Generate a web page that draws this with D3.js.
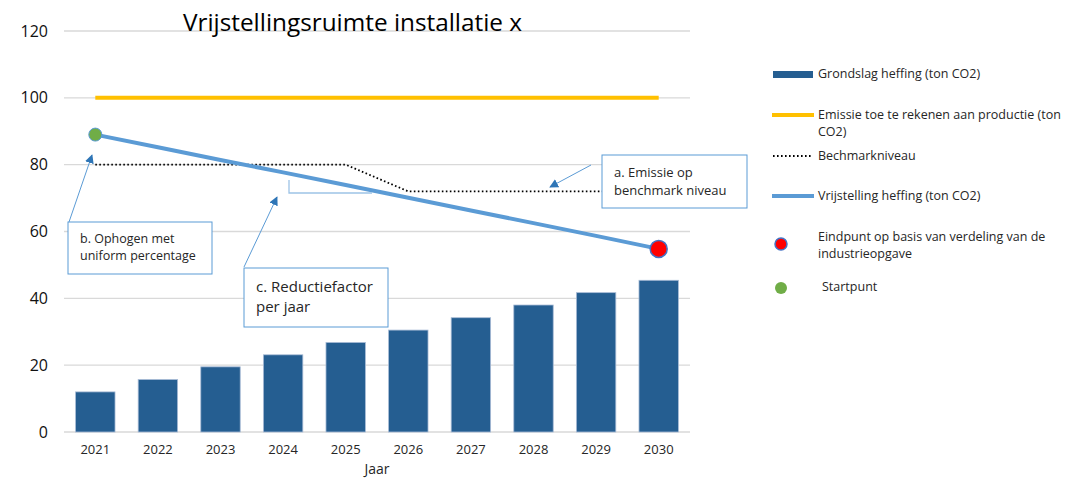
<!DOCTYPE html>
<html>
<head>
<meta charset="utf-8">
<script src="https://cdn.jsdelivr.net/npm/d3@7"></script>
<style>
  body { margin: 0; background: #fff; }
  svg { font-family: "Open Sans", "Noto Sans", sans-serif; }
</style>
</head>
<body>
<svg id="chart" width="1072" height="479"></svg>
<script>
// chart data
const years = ["2021", "2022", "2023", "2024", "2025", "2026", "2027", "2028", "2029", "2030"];
const grondslag = [12.0, 15.7, 19.5, 23.1, 26.8, 30.5, 34.2, 38.0, 41.7, 45.4];
const emissie = [100, 100, 100, 100, 100, 100, 100, 100, 100, 100];
const benchmark = [80, 80, 80, 80, 80, 72, 72, 72, 72, 72];
const vrijstelling = [89, 85.2, 81.4, 77.7, 73.9, 70.1, 66.3, 62.5, 58.7, 54.8];
const yTicks = [0, 20, 40, 60, 80, 100, 120];

const svg = d3.select("#chart");

// scales
const x = d3.scaleBand()
    .domain(years)
    .range([64, 690])
    .paddingInner(0.37)
    .paddingOuter(0.185);
const y = d3.scaleLinear()
    .domain([0, 120])
    .range([432, 31]);
const cx = d => x(d) + x.bandwidth() / 2;

// gridlines
svg.append("g")
    .selectAll("line")
    .data(yTicks)
    .enter()
    .append("line")
    .attr("x1", 64)
    .attr("x2", 690)
    .attr("y1", d => y(d))
    .attr("y2", d => y(d))
    .attr("stroke", "#d9d9d9")
    .attr("stroke-width", 1.3);

// y axis labels
const yAxis = svg.append("g")
    .attr("transform", "translate(64,0)")
    .call(d3.axisLeft(y).tickValues(yTicks).tickSize(0).tickPadding(16));
yAxis.select(".domain").remove();
yAxis.selectAll("text")
    .style("font-size", "16px")
    .style("fill", "#111")
    .style("font-family", "\"Open Sans\", sans-serif");

// x axis labels
const xAxis = svg.append("g")
    .attr("transform", "translate(0,432)")
    .call(d3.axisBottom(x).tickSize(0).tickPadding(13));
xAxis.select(".domain").remove();
xAxis.selectAll("text")
    .style("font-size", "13px")
    .style("fill", "#262626")
    .style("font-family", "\"Open Sans\", sans-serif");

// bars
svg.append("g")
    .selectAll("rect")
    .data(grondslag)
    .enter()
    .append("rect")
    .attr("x", (d, i) => x(years[i]))
    .attr("y", d => y(d))
    .attr("width", x.bandwidth())
    .attr("height", d => y(0) - y(d))
    .attr("fill", "#255e91")
    .attr("stroke", "#a9bcd6")
    .attr("stroke-width", 0.8);

// lines
const line = d3.line()
    .x((d, i) => cx(years[i]))
    .y(d => y(d));

svg.append("path")
    .datum(emissie)
    .attr("d", line)
    .attr("fill", "none")
    .attr("stroke", "#ffc000")
    .attr("stroke-width", 4);

svg.append("path")
    .datum(benchmark)
    .attr("d", line)
    .attr("fill", "none")
    .attr("stroke", "#000")
    .attr("stroke-width", 1.8)
    .attr("stroke-dasharray", "1.6,2.4");

svg.append("path")
    .datum(vrijstelling)
    .attr("d", line)
    .attr("fill", "none")
    .attr("stroke", "#5b9bd5")
    .attr("stroke-width", 4);

// start and end points
svg.append("circle")
    .attr("cx", cx(years[0]))
    .attr("cy", y(vrijstelling[0]))
    .attr("r", 6.5)
    .attr("fill", "#70ad47")
    .attr("stroke", "#5b9bd5")
    .attr("stroke-width", 1);

svg.append("circle")
    .attr("cx", cx(years[years.length - 1]))
    .attr("cy", y(vrijstelling[vrijstelling.length - 1]))
    .attr("r", 8.5)
    .attr("fill", "#ff0000")
    .attr("stroke", "#4472c4")
    .attr("stroke-width", 1.5);

// title
svg.append("text")
    .attr("x", 183)
    .attr("y", 31)
    .style("font-size", "23px")
    .style("fill", "#000")
    .attr("textLength", 339)
    .attr("lengthAdjust", "spacingAndGlyphs")
    .text("Vrijstellingsruimte installatie x");

// x axis title
svg.append("text")
    .attr("x", 377)
    .attr("y", 474)
    .attr("text-anchor", "middle")
    .style("font-size", "14px")
    .style("fill", "#262626")
    .text("Jaar");

// reduction bracket
svg.append("path")
    .attr("d", "M289,180 V193 H372")
    .attr("fill", "none")
    .attr("stroke", "#9dc3e6")
    .attr("stroke-width", 1.3);

// arrow marker
svg.append("defs")
    .append("marker")
    .attr("id", "arrow")
    .attr("viewBox", "0 0 10 10")
    .attr("refX", 9)
    .attr("refY", 5)
    .attr("markerWidth", 9)
    .attr("markerHeight", 9)
    .attr("markerUnits", "userSpaceOnUse")
    .attr("orient", "auto")
    .append("path")
    .attr("d", "M0,0 L10,5 L0,10 Z")
    .attr("fill", "#2e75b6");

// callouts
const callouts = [
    { box: [602, 155, 145, 53], lines: ["a. Emissie op", "benchmark niveau"], size: 13, dy: 18, from: [591, 165], to: [550, 187] },
    { box: [68, 222, 144, 52], lines: ["b. Ophogen met", "uniform percentage"], size: 12.5, dy: 17, from: [69, 222], to: [92, 155] },
    { box: [244, 268, 144, 59], lines: ["c. Reductiefactor", "per jaar"], size: 15, dy: 20, from: [244, 267], to: [277, 197] }
];

callouts.forEach(c => {
    svg.append("line")
        .attr("x1", c.from[0])
        .attr("y1", c.from[1])
        .attr("x2", c.to[0])
        .attr("y2", c.to[1])
        .attr("stroke", "#5b9bd5")
        .attr("stroke-width", 1)
        .attr("marker-end", "url(#arrow)");
    svg.append("rect")
        .attr("x", c.box[0])
        .attr("y", c.box[1])
        .attr("width", c.box[2])
        .attr("height", c.box[3])
        .attr("fill", "#fff")
        .attr("stroke", "#5b9bd5")
        .attr("stroke-width", 1);
    const t = svg.append("text")
        .style("font-size", c.size + "px")
        .style("fill", "#262626");
    c.lines.forEach((s, i) => {
        t.append("tspan")
            .attr("x", c.box[0] + 12)
            .attr("y", c.box[1] + c.dy + 4 + i * c.dy)
            .text(s);
    });
});

// legend
const legend = svg.append("g").style("font-size", "12.5px").style("fill", "#262626");

legend.append("rect")
    .attr("x", 773).attr("y", 71).attr("width", 40).attr("height", 7)
    .attr("fill", "#255e91");
legend.append("text").attr("x", 818).attr("y", 78).text("Grondslag heffing (ton CO2)");

legend.append("line")
    .attr("x1", 772).attr("x2", 814).attr("y1", 115).attr("y2", 115)
    .attr("stroke", "#ffc000").attr("stroke-width", 4);
const t2 = legend.append("text");
t2.append("tspan").attr("x", 818).attr("y", 119).text("Emissie toe te rekenen aan  productie (ton");
t2.append("tspan").attr("x", 818).attr("y", 136).text("CO2)");

legend.append("line")
    .attr("x1", 773).attr("x2", 812).attr("y1", 156).attr("y2", 156)
    .attr("stroke", "#000").attr("stroke-width", 1.8).attr("stroke-dasharray", "1.6,2.4");
legend.append("text").attr("x", 818).attr("y", 160).text("Bechmarkniveau");

legend.append("line")
    .attr("x1", 772).attr("x2", 814).attr("y1", 196).attr("y2", 196)
    .attr("stroke", "#5b9bd5").attr("stroke-width", 4);
legend.append("text").attr("x", 818).attr("y", 200).text("Vrijstelling heffing (ton CO2)");

legend.append("circle")
    .attr("cx", 781).attr("cy", 244).attr("r", 6)
    .attr("fill", "#ff0000").attr("stroke", "#4472c4").attr("stroke-width", 1.5);
const t5 = legend.append("text");
t5.append("tspan").attr("x", 818).attr("y", 241).text("Eindpunt op basis van verdeling van de");
t5.append("tspan").attr("x", 818).attr("y", 258).text("industrieopgave");

legend.append("circle")
    .attr("cx", 781).attr("cy", 288).attr("r", 6)
    .attr("fill", "#70ad47");
legend.append("text").attr("x", 822).attr("y", 291).text("Startpunt");
</script>
</body>
</html>
